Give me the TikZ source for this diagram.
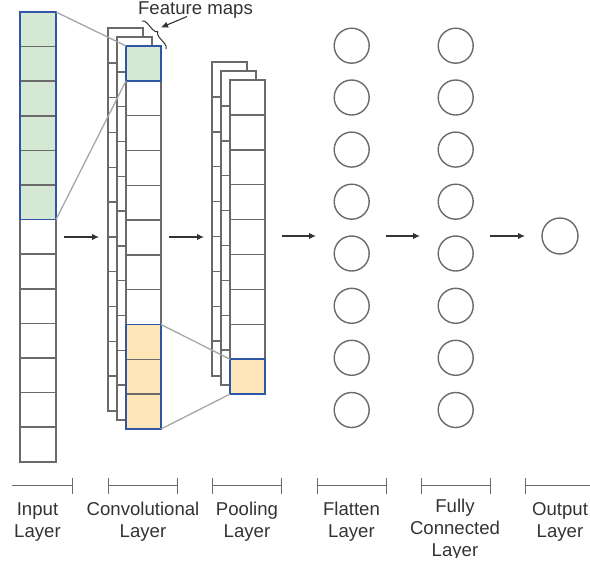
\documentclass[tikz,border=0pt]{standalone}
\usepackage{fontspec}
\setmainfont{Liberation Sans}
\usetikzlibrary{arrows.meta,decorations.pathreplacing}
\definecolor{cellgray}{HTML}{6A6A6A}
\definecolor{hlblue}{HTML}{2F55A4}
\definecolor{gfill}{HTML}{D5E8D4}
\definecolor{ofill}{HTML}{FFE6B8}
\definecolor{linkgray}{HTML}{A6A6A6}
\definecolor{txt}{HTML}{333333}
% x, ytop, width, cell height, number of cells, extra options for outline
\newcommand{\cnncol}[6]{%
  \draw[cell,#6] (#1,#2) rectangle ({#1+#3},{#2+#5*#4});
  \foreach \i in {1,...,#5}{\ifnum\i<#5\relax\draw[cell] (#1,{#2+\i*#4}) -- ({#1+#3},{#2+\i*#4});\fi}}
\begin{document}
\begin{tikzpicture}[x=1pt,y=-1pt,
  cell/.style={draw=cellgray, line width=1.5pt},
  hlnode/.style={draw=none, inner sep=0pt, outer sep=0pt, anchor=north west},
  hlborder/.style={draw=hlblue, line width=1.6pt},
  link/.style={draw=linkgray, line width=1.3pt},
  neuron/.style={circle, draw=cellgray, line width=1.4pt, minimum size=35pt, inner sep=0pt},
  flow/.style={draw=txt, line width=1.1pt, -{Latex[length=7pt,width=6.5pt]}},
  bar/.style={draw=cellgray, line width=1.4pt},
  lbl/.style={text=txt, align=center, font=\fontsize{18.6}{22}\selectfont, inner sep=0pt},
]
\useasboundingbox (0,0) rectangle (590,565);
\clip (0,0) rectangle (590,557.5);

% ---------- Input layer ----------
\node[hlnode, fill=gfill, minimum width=36pt, minimum height=207.6pt] (ingreen) at (20,12) {};
\cnncol{20}{12}{36}{34.6}{13}{}
\draw[hlborder] (ingreen.north west) rectangle (ingreen.south east);

% ---------- Convolutional layer ----------
\cnncol{108}{28}{35}{34.82}{11}{fill=white}
\cnncol{117}{37}{35}{34.82}{11}{fill=white}
\fill[white] (126,46) rectangle ++(35,383);
\node[hlnode, fill=gfill, minimum width=35pt, minimum height=34.82pt] (convgreen) at (126,46) {};
\node[hlnode, fill=ofill, minimum width=35pt, minimum height=104.46pt] (convorange) at (126,324.56) {};
\cnncol{126}{46}{35}{34.82}{11}{}
\draw[hlborder] (convgreen.north west) rectangle (convgreen.south east);
\draw[hlborder] (convorange.north west) rectangle (convorange.south east);

% ---------- Pooling layer ----------
\cnncol{212}{62}{35}{34.9}{9}{fill=white}
\cnncol{221}{71}{35}{34.9}{9}{fill=white}
\fill[white] (230,80) rectangle ++(35,314.1);
\node[hlnode, fill=ofill, minimum width=35pt, minimum height=34.9pt] (poolorange) at (230,359.2) {};
\cnncol{230}{80}{35}{34.9}{9}{}
\draw[hlborder] (poolorange.north west) rectangle (poolorange.south east);

% ---------- receptive field links ----------
\draw[link] (ingreen.north east) -- (convgreen.north west);
\draw[link] (ingreen.south east) -- (convgreen.south west);
\draw[link] (convorange.north east) -- (poolorange.north west);
\draw[link] (convorange.south east) -- (poolorange.south west);

% ---------- Feature maps annotation ----------
\node[lbl, anchor=base] (fmaps) at (195.5,14) {Feature maps};
\draw[txt, line width=1pt, decorate, decoration={brace, amplitude=5pt}] (142,21) -- (166,49);
\coordinate (fmtip) at (161,27.5);
\draw[flow] (187,16.5) -- (fmtip);

% ---------- Flatten and fully connected ----------
\foreach \k/\yy in {1/45.7,2/97.5,3/149.6,4/201.7,5/253.5,6/305.8,7/357.8,8/410}{
  \node[neuron] (f\k) at (351.7,\yy) {};
  \node[neuron] (h\k) at (455.7,\yy) {};
}
\node[neuron, minimum size=36pt] (out) at (560,236) {};

% ---------- flow arrows ----------
\coordinate (a1s) at (64,237);  \coordinate (a1e) at (99,237);
\coordinate (a2s) at (169,237); \coordinate (a2e) at (204,237);
\coordinate (a3s) at (282,236); \coordinate (a3e) at (316,236);
\coordinate (a4s) at (386,236); \coordinate (a4e) at (420,236);
\coordinate (a5s) at (490,236); \coordinate (a5e) at (525,236);
\draw[flow] (a1s) -- (a1e);
\draw[flow] (a2s) -- (a2e);
\draw[flow] (a3s) -- (a3e);
\draw[flow] (a4s) -- (a4e);
\draw[flow] (a5s) -- (a5e);

% ---------- layer extents ----------
\draw[bar, -{Bar[width=16pt]}] (12,485.5) -- (73,485.5);
\draw[bar, {Bar[width=16pt]}-{Bar[width=16pt]}] (108,485.5) -- (178,485.5);
\draw[bar, {Bar[width=16pt]}-{Bar[width=16pt]}] (212,485.5) -- (282,485.5);
\draw[bar, {Bar[width=16pt]}-{Bar[width=16pt]}] (317,485.5) -- (387,485.5);
\draw[bar, {Bar[width=16pt]}-{Bar[width=16pt]}] (421,485.5) -- (491,485.5);
\draw[bar, {Bar[width=16pt]}-] (525,485.5) -- (592,485.5);

% ---------- labels (anchor=base is the last line's baseline) ----------
\node[lbl, anchor=base] (l1) at (37.5,537) {Input\\Layer};
\node[lbl, anchor=base] (l2) at (143,537) {Convolutional\\Layer};
\node[lbl, anchor=base] (l3) at (247,537) {Pooling\\Layer};
\node[lbl, anchor=base] (l4) at (351.5,537) {Flatten\\Layer};
\node[lbl, anchor=base] (l5) at (455,556) {Fully\\Connected\\Layer};
\node[lbl, anchor=base] (l6) at (560,537) {Output\\Layer};
\end{tikzpicture}
\end{document}
